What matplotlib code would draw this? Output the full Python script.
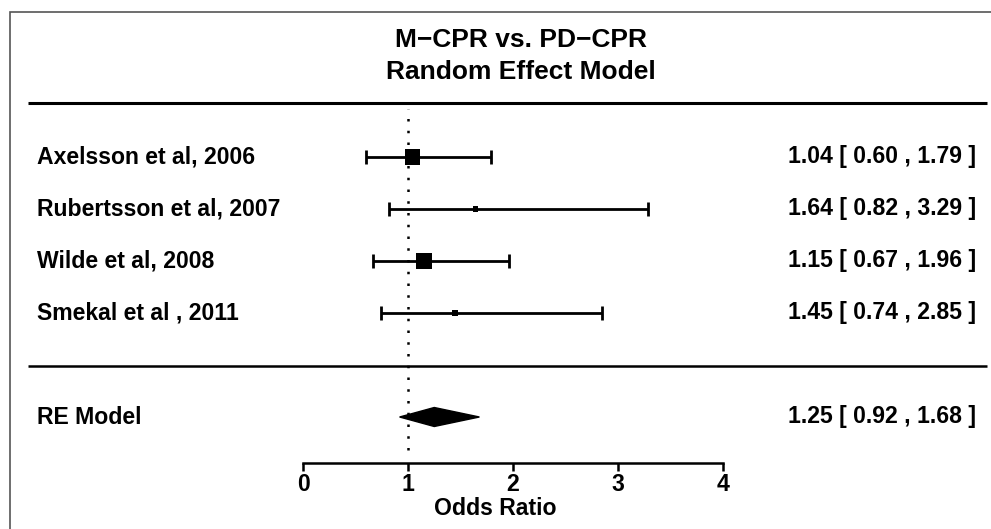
import numpy as np
import matplotlib
matplotlib.use("Agg")
import matplotlib.pyplot as plt
from matplotlib.patches import Rectangle, Polygon

plt.rcParams['font.family'] = ['Liberation Sans', 'DejaVu Sans']
plt.rcParams['font.weight'] = 'bold'

# studies
studies = ["Axelsson et al, 2006", "Rubertsson et al, 2007",
           "Wilde et al, 2008", "Smekal et al , 2011"]
odds = np.array([1.04, 1.64, 1.15, 1.45])
ci_lo = np.array([0.60, 0.82, 0.67, 0.74])
ci_hi = np.array([1.79, 3.29, 1.96, 2.85])
weights = np.array([30.2, 18.7, 31.3, 19.8])   # % weight (approx)

# pooled random effects
re_label = "RE Model"
re_est, re_lo, re_hi = 1.25, 0.92, 1.68

xticks = [0, 1, 2, 3, 4]
title = "M\u2212CPR vs. PD\u2212CPR\nRandom Effect Model"

W, H = 991, 529
fig = plt.figure(figsize=(W / 100, H / 100), dpi=100)
ax = fig.add_axes([0, 0, 1, 1])

# x: 0 -> px 303, 1 unit = 105 px ; y: row spacing 52 px, row 1 at px 313
def px_x(p):
    return (p - 303) / 105

def px_y(p):
    return 1 + (313 - p) / 52

ax.set_xlim(px_x(0), px_x(W))
ax.set_ylim(px_y(H), px_y(0))

rows = np.arange(len(studies), 0, -1)
re_row = -1.0

# separator lines
ax.plot([px_x(28), px_x(987)], [px_y(103)] * 2, color='black', lw=2.2,
        solid_capstyle='butt')
ax.plot([px_x(28), px_x(987)], [px_y(366)] * 2, color='black', lw=1.8,
        solid_capstyle='butt')

# reference line at OR = 1
ax.plot([1, 1], [px_y(450), px_y(109)], color='black', lw=1.8,
        linestyle=(0, (1, 3.7)))

# CIs
ax.errorbar(odds, rows, xerr=[odds - ci_lo, ci_hi - odds], fmt='none',
            ecolor='black', elinewidth=2.0, capsize=4.7, capthick=2.0)

# square size from weights (rescaled to 0.5 .. 1.5)
psize = (weights - weights.min()) / (weights.max() - weights.min()) + 0.5
side_pt = psize * 10.7 * 0.72
ax.scatter(odds, rows, marker='s', s=side_pt ** 2, color='black', zorder=3,
           linewidths=0)

# diamond
h = 9.5 / 52
ax.add_patch(Polygon([[re_lo, re_row], [re_est, re_row + h],
                      [re_hi, re_row], [re_est, re_row - h]],
                     closed=True, facecolor='black', edgecolor='black', lw=1))

# labels
fs = 16.6
for r, name, o, lo, hi in zip(rows, studies, odds, ci_lo, ci_hi):
    ax.text(px_x(37), r, name, ha='left', va='center', fontsize=fs)
    ax.text(px_x(976), r, f"{o:.2f} [ {lo:.2f} , {hi:.2f} ]",
            ha='right', va='center', fontsize=fs)
ax.text(px_x(37), re_row, re_label, ha='left', va='center', fontsize=fs)
ax.text(px_x(976), re_row, f"{re_est:.2f} [ {re_lo:.2f} , {re_hi:.2f} ]",
        ha='right', va='center', fontsize=fs)

ax.text(px_x(521), px_y(40), title.split("\n")[0], ha='center', va='center',
        fontsize=19)
ax.text(px_x(521), px_y(72), title.split("\n")[1], ha='center', va='center',
        fontsize=19)

# x axis
for s in ['top', 'right', 'left']:
    ax.spines[s].set_visible(False)
ax.spines['bottom'].set_position(('data', px_y(463)))
ax.spines['bottom'].set_bounds(xticks[0], xticks[-1])
ax.spines['bottom'].set_linewidth(1.8)
ax.set_yticks([])
ax.set_xticks(xticks)
ax.set_xticklabels([str(t) for t in xticks])
ax.tick_params(axis='x', direction='out', length=6, width=1.8, pad=1,
               labelsize=fs)
ax.set_xlabel("Odds Ratio", fontsize=fs, fontweight='bold', labelpad=1)
ax.patch.set_visible(False)

# outer frame
fig.add_artist(Rectangle((10 / W, -0.5), 2, 1.5 - 11.7 / H,
                         transform=fig.transFigure, fill=False,
                         edgecolor='#555555', lw=1.2))

fig.savefig("out.png", dpi=100)
